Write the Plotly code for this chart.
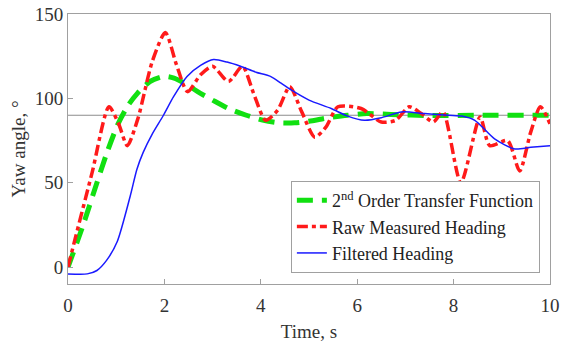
import plotly.graph_objects as go

# Raw measured heading
t_raw = [0, 0.15, 0.5, 0.85, 1.05, 1.23, 1.45, 1.75, 2.02, 2.25, 2.48, 2.75, 3.0, 3.33, 3.62, 3.85, 4.1, 4.35,
         4.6, 4.85, 5.12, 5.35, 5.6, 6.08, 6.5, 6.8, 7.08, 7.33, 7.58, 7.78, 8.15, 8.55, 8.75, 9.12, 9.37, 9.6, 9.8, 10]
y_raw = [0, 17, 56, 95, 85, 72, 88, 122, 139, 120, 104, 114, 119, 110, 119, 103, 87, 93,
         107, 92, 77, 83, 95, 94, 86, 87, 95, 91, 86, 92, 50, 89, 72, 75, 57, 80, 95, 85]

# 2nd order transfer function
t_tf = [0, 0.31, 0.6, 0.81, 1.04, 1.25, 1.44, 1.7, 2.0, 2.2, 2.45, 2.69, 3.0, 3.33, 3.7, 4.06, 4.4, 4.7,
        5.0, 5.4, 5.8, 6.2, 6.7, 7.5, 8.5, 10]
y_tf = [0, 24.6, 50, 68, 85, 96, 103, 110, 113, 112, 108.5, 104, 99, 94, 90, 87, 85.5, 85.5,
        86.5, 88.5, 90, 91, 90.5, 89.8, 90, 90]

# Filtered heading
t_f = [0, 0.4, 0.6, 0.8, 1.02, 1.29, 1.43, 1.56, 1.75, 1.98, 2.19, 2.47, 2.75, 3.02, 3.3, 3.58, 3.9, 4.2,
       4.42, 4.63, 5.0, 5.46, 5.8, 6.15, 6.5, 6.92, 7.4, 7.9, 8.17, 8.44, 8.85, 9.27, 9.6, 10]
y_f = [-4, -4, -2, 4, 15, 42, 58, 68, 79, 90, 101, 113, 119.5, 123, 121.5, 119, 115.5, 113,
       109, 105, 99, 94, 89.5, 87, 88.5, 92, 91, 90, 89.5, 87, 76, 70, 71, 72]

ref_level = 90

x_ticks = [0, 2, 4, 6, 8, 10]
y_ticks = [0, 50, 100, 150]

FONT = "Liberation Serif, Times New Roman, serif"

fig = go.Figure()
fig.add_trace(go.Scatter(
    x=[0, 10], y=[ref_level, ref_level], mode="lines",
    line=dict(color="#8c8c8c", width=1.2), showlegend=False, hoverinfo="skip"))
fig.add_trace(go.Scatter(
    x=t_tf, y=y_tf, mode="lines", name="2<sup>nd</sup> Order Transfer Function",
    line=dict(color="#11e011", width=5, dash="16px,9px", shape="spline", smoothing=0.7)))
fig.add_trace(go.Scatter(
    x=t_raw, y=y_raw, mode="lines", name="Raw Measured Heading",
    line=dict(color="#ff1a1a", width=3.5, dash="11px,4px,4px,4px", shape="spline", smoothing=0.7)))
fig.add_trace(go.Scatter(
    x=t_f, y=y_f, mode="lines", name="Filtered Heading",
    line=dict(color="#1a1aff", width=1.5, shape="spline", smoothing=0.7)))

axis_common = dict(
    showline=True, mirror=True, linecolor="#a0a0a0", linewidth=1,
    ticks="inside", ticklen=5, tickcolor="#a0a0a0",
    showgrid=False, zeroline=False, automargin=False,
    tickfont=dict(family=FONT, size=19, color="#333333"),
)

fig.update_xaxes(range=[0, 10], tickvals=x_ticks, **axis_common, ticklabelstandoff=4,
                 title=dict(text="Time, s", font=dict(family=FONT, size=19, color="#333333"), standoff=10))
fig.update_yaxes(range=[-10, 150], tickvals=y_ticks, **axis_common,
                 title=dict(text="Yaw angle, °", font=dict(family=FONT, size=19, color="#333333"), standoff=4))

fig.update_layout(
    width=562, height=342,
    margin=dict(l=68, r=12, t=14, b=58, autoexpand=False),
    paper_bgcolor="white", plot_bgcolor="white",
    font=dict(family=FONT, size=19, color="#222222"),
    legend=dict(
        x=0.979, y=0.041, xanchor="right", yanchor="bottom",
        bgcolor="white", bordercolor="#a0a0a0", borderwidth=1,
        font=dict(family=FONT, size=18, color="#222222"),
        itemwidth=30, tracegroupgap=0,
    ),
)

fig.write_html("out.html", config={"displayModeBar": False},
               post_script="document.body.style.margin='0';")
